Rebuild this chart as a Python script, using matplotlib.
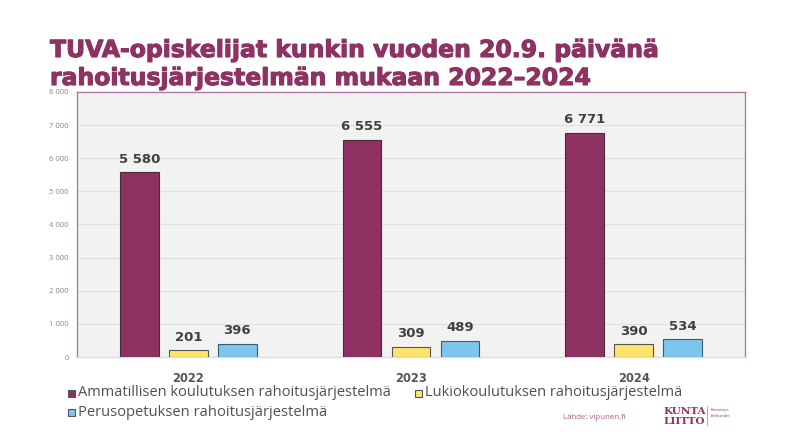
import matplotlib
matplotlib.use("Agg")
import matplotlib.pyplot as plt
import matplotlib.patheffects as pe
import numpy as np
from matplotlib.patches import Rectangle

years = ["2022", "2023", "2024"]
series_names = ["Ammatillisen koulutuksen rahoitusjärjestelmä",
                "Lukiokoulutuksen rahoitusjärjestelmä",
                "Perusopetuksen rahoitusjärjestelmä"]
ammatillinen = [5580, 6555, 6771]
lukio = [201, 309, 390]
perus = [396, 489, 534]
yticks = [0, 1000, 2000, 3000, 4000, 5000, 6000, 7000, 8000]
ytick_labels = ["0", "1 000", "2 000", "3 000", "4 000", "5 000", "6 000", "7 000", "8 000"]

colors = ["#8E3163", "#FFE36A", "#7CC6EE"]
edges = ["#4a2a3a", "#555555", "#3a5a70"]

W, H = 790, 444
fig = plt.figure(figsize=(W/100, H/100), dpi=100)
fig.patch.set_facecolor("white")
renderer = fig.canvas.get_renderer()

def fit(t, target_w):
    """scale font size so text gets target pixel width"""
    bb = t.get_window_extent(renderer=renderer)
    if bb.width > 0:
        t.set_fontsize(t.get_fontsize() * target_w / bb.width)
    return t

x0, x1, y0, y1 = 77, 745, 92, 357
ax = fig.add_axes([x0/W, 1 - y1/H, (x1-x0)/W, (y1-y0)/H])
ax.set_facecolor("#F2F2F2")
ax.set_xlim(-0.5, 2.5)
ax.set_ylim(0, 8000)

for s in ["left", "top", "right"]:
    ax.spines[s].set_color("#B07AA0")
    ax.spines[s].set_linewidth(1.0)
ax.spines["bottom"].set_color("#DDDDDD")
ax.spines["bottom"].set_linewidth(1.0)

ax.set_yticks(yticks)
ax.set_yticklabels(ytick_labels, fontsize=5.5, color="#888888", family="Open Sans")
ax.tick_params(axis="y", length=0, pad=6)
ax.tick_params(axis="x", length=0, pad=11)
ax.yaxis.grid(True, color="#E0E0E0", linewidth=0.8)
ax.set_axisbelow(True)

x = np.arange(len(years))
bw = 0.175
offs = [-0.22, 0.0, 0.22]
data = [ammatillinen, lukio, perus]
for i, (vals, c, e) in enumerate(zip(data, colors, edges)):
    ax.bar(x + offs[i], vals, width=bw, color=c, edgecolor=e, linewidth=0.8,
           label=series_names[i], zorder=3)
    for xi, v in zip(x + offs[i], vals):
        lbl = f"{v:,}".replace(",", " ")
        ax.annotate(lbl, (xi, v), xytext=(0, 13), textcoords="offset pixels",
                    ha="center", va="center", fontsize=9.5,
                    fontweight="bold", color="#404040", family="DejaVu Sans", zorder=4)

ax.set_xticks(x)
ax.set_xticklabels(years, fontsize=8.3, fontweight="bold", color="#555555", family="DejaVu Sans")

# title
title_fx = [pe.withStroke(linewidth=0.8, foreground="#8E3163")]
t1 = fig.text(50/W, 1 - 50/H, "TUVA-opiskelijat kunkin vuoden 20.9. päivänä",
              fontsize=18, fontweight="bold", color="#8E3163", family="DejaVu Sans",
              va="center", ha="left")
fit(t1, 610)
t1.set_path_effects(title_fx)
t2 = fig.text(50/W, 1 - 78/H, "rahoitusjärjestelmän mukaan 2022–2024",
              fontsize=t1.get_fontsize(), fontweight="bold", color="#8E3163", family="DejaVu Sans",
              va="center", ha="left", path_effects=title_fx)

# legend (manual placement)
def legend_item(px, py, color, text, tw):
    sz = 7
    fig.patches.append(Rectangle((px/W, 1 - (py + sz/2)/H), sz/W, sz/H,
                                 transform=fig.transFigure, facecolor=color,
                                 edgecolor="#555555", linewidth=0.8))
    t = fig.text((px + sz + 3)/W, 1 - py/H, text, fontsize=10, color="#505050",
                 va="center", ha="left", family="Open Sans")
    fit(t, tw)

legend_item(68, 393, colors[0], series_names[0], 314)
legend_item(415, 393, colors[1], series_names[1], 257)
legend_item(68, 412, colors[2], series_names[2], 249)

src = fig.text(563/W, 1 - 417/H, "Lähde: vipunen.fi", fontsize=6, color="#B05A8E",
               va="center", ha="left", family="Open Sans")
fit(src, 63)
fig.text(663/W, 1 - 411/H, "KUNTA", fontsize=7.5, color="#8E3163",
         va="center", ha="left", family="DejaVu Serif", fontweight="bold")
fig.text(663/W, 1 - 421/H, "LIITTO", fontsize=7.5, color="#8E3163",
         va="center", ha="left", family="DejaVu Serif", fontweight="bold")
fig.text(711/W, 1 - 413/H, "Kommun-\nförbundet", fontsize=3, color="#8E3163",
         va="center", ha="left", family="Open Sans", linespacing=1.4)
fig.lines.append(plt.Line2D([707/W, 707/W], [1 - 406/H, 1 - 425/H],
                            transform=fig.transFigure, color="#B07AA0", linewidth=0.5))

fig.savefig("out.png", dpi=100)
